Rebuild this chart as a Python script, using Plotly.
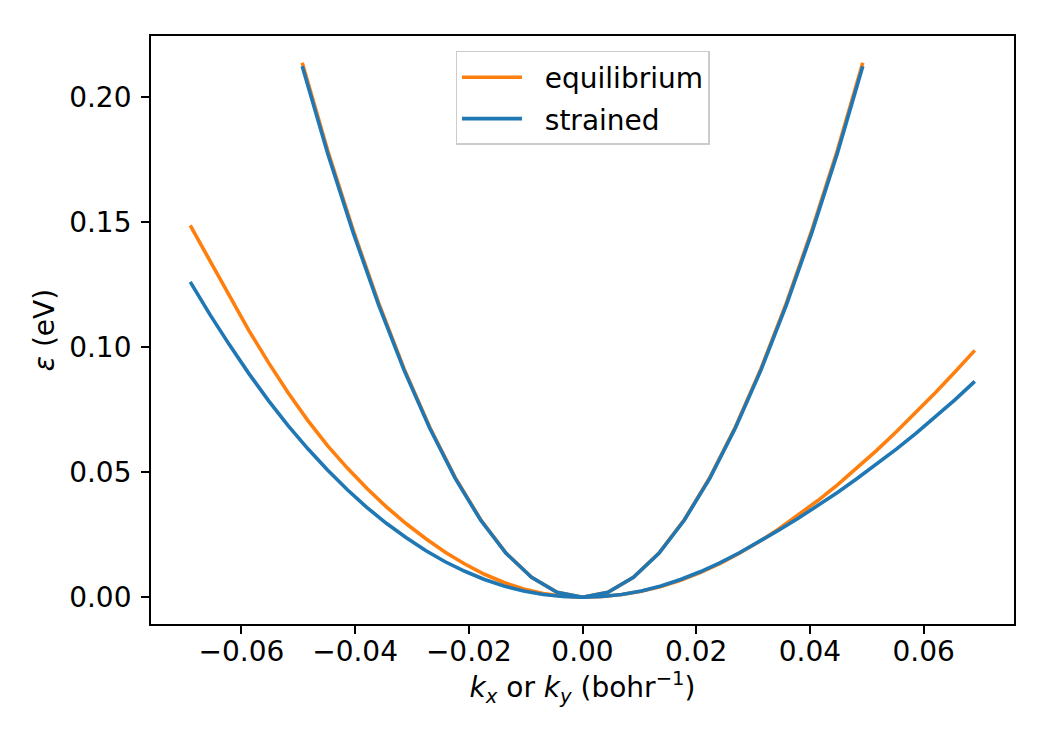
import plotly.graph_objects as go

# Steep band (23 points)
k_steep = [-0.0493, -0.04482, -0.04034, -0.03585, -0.03137, -0.02689, -0.02241, -0.01793,
           -0.01345, -0.00896, -0.00448, 0.0, 0.00448, 0.00896, 0.01345, 0.01793, 0.02241,
           0.02689, 0.03137, 0.03585, 0.04034, 0.04482, 0.0493]
eq_steep = [0.2139, 0.1788, 0.1469, 0.1177, 0.0914, 0.0681, 0.0480, 0.0311, 0.0177, 0.0080,
            0.0020, 0.0, 0.0020, 0.0080, 0.0177, 0.0311, 0.0480, 0.0681, 0.0914, 0.1177,
            0.1469, 0.1788, 0.2139]
st_steep = [0.2125, 0.1776, 0.1459, 0.1169, 0.0908, 0.0677, 0.0477, 0.0309, 0.0176, 0.0080,
            0.0020, 0.0, 0.0020, 0.0080, 0.0176, 0.0309, 0.0477, 0.0677, 0.0908, 0.1169,
            0.1459, 0.1776, 0.2125]

# Shallow band (41 points)
k_flat = [-0.069, -0.06555, -0.0621, -0.05865, -0.0552, -0.05175, -0.0483, -0.04485,
          -0.0414, -0.03795, -0.0345, -0.03105, -0.0276, -0.02415, -0.0207, -0.01725,
          -0.0138, -0.01035, -0.0069, -0.00345, 0.0,
          0.00345, 0.0069, 0.01035, 0.0138, 0.01725, 0.0207, 0.02415, 0.0276, 0.03105,
          0.0345, 0.03795, 0.0414, 0.04485, 0.0483, 0.05175, 0.0552, 0.05865, 0.0621,
          0.06555, 0.069]
eq_flat = [0.1488, 0.1345, 0.1203, 0.1066, 0.0938, 0.0817, 0.0707, 0.0607,
           0.0518, 0.0436, 0.0362, 0.0295, 0.0235, 0.0180, 0.0133, 0.0092,
           0.0059, 0.0033, 0.0015, 0.0004, 0.0,
           0.0003, 0.0011, 0.0024, 0.0043, 0.0068, 0.0099, 0.0135, 0.0176, 0.0222,
           0.0273, 0.0328, 0.0387, 0.0450, 0.0517, 0.0588, 0.0662, 0.0739, 0.0819,
           0.0902, 0.0988]
st_flat = [0.1262, 0.1132, 0.1010, 0.0894, 0.0786, 0.0686, 0.0594, 0.0509,
           0.0431, 0.0360, 0.0296, 0.0239, 0.0187, 0.0142, 0.0104, 0.0071,
           0.0045, 0.0025, 0.0011, 0.0003, 0.0,
           0.0003, 0.0011, 0.0025, 0.0045, 0.0071, 0.0102, 0.0138, 0.0178, 0.0222,
           0.0268, 0.0316, 0.0366, 0.0419, 0.0475, 0.0533, 0.0593, 0.0656, 0.0722,
           0.0791, 0.0864]

x_ticks = [-0.06, -0.04, -0.02, 0.0, 0.02, 0.04, 0.06]
y_ticks = [0.0, 0.05, 0.10, 0.15, 0.20]

ORANGE = "#ff7f0e"
BLUE = "#1f77b4"
LW = 3.6
PAD = "\u00a0\u00a0"

fig = go.Figure()
fig.add_trace(go.Scatter(x=k_steep, y=eq_steep, mode="lines", name=PAD + "equilibrium",
                         line=dict(color=ORANGE, width=LW), legendgroup="eq"))
fig.add_trace(go.Scatter(x=k_flat, y=eq_flat, mode="lines", name="equilibrium",
                         line=dict(color=ORANGE, width=LW), legendgroup="eq", showlegend=False))
fig.add_trace(go.Scatter(x=k_steep, y=st_steep, mode="lines", name=PAD + "strained",
                         line=dict(color=BLUE, width=LW), legendgroup="st"))
fig.add_trace(go.Scatter(x=k_flat, y=st_flat, mode="lines", name="strained",
                         line=dict(color=BLUE, width=LW), legendgroup="st", showlegend=False))

FONT = "DejaVu Sans"
FS = 28
axis_common = dict(showgrid=False, zeroline=False, showline=True, linecolor="black",
                   linewidth=1.8, mirror=True, ticks="outside", ticklen=8, tickwidth=1.8,
                   tickcolor="black",
                   tickfont=dict(family=FONT, size=FS, color="black"))

fig.update_layout(
    width=1050, height=750,
    margin=dict(l=151, r=36, t=36, b=126),
    paper_bgcolor="white", plot_bgcolor="white",
    font=dict(family=FONT, size=FS, color="black"),
    xaxis=dict(range=[-0.0759, 0.0759], tickvals=x_ticks, tickformat=".2f",
               ticklabelstandoff=-7,
               title=dict(text="<i>k<sub>x</sub></i> or <i>k<sub>y</sub></i> (bohr<sup>−1</sup>)",
                          font=dict(family=FONT, size=FS), standoff=5),
               **axis_common),
    yaxis=dict(range=[-0.0107, 0.2246], tickvals=y_ticks, tickformat=".2f",
               ticklabelstandoff=4,
               title=dict(text="<i>ε</i> (eV)", font=dict(family=FONT, size=FS), standoff=6),
               **axis_common),
    legend=dict(x=0.5, xanchor="center", y=0.9745, yanchor="top",
                bgcolor="rgba(255,255,255,0.8)", bordercolor="#cccccc", borderwidth=1.5,
                font=dict(family=FONT, size=FS), tracegroupgap=2, itemwidth=60),
    showlegend=True,
)

fig.write_html("out.html")
